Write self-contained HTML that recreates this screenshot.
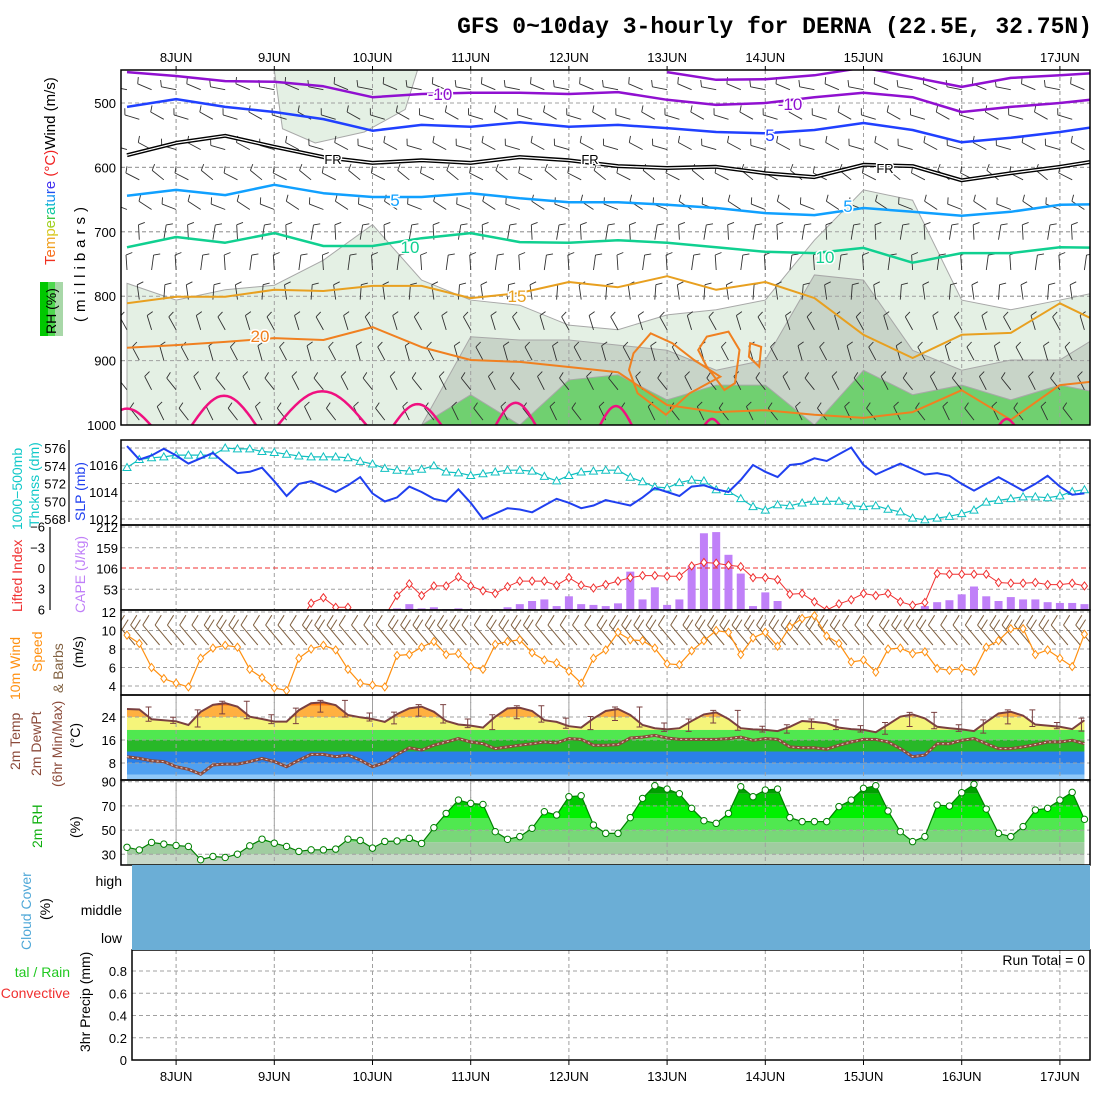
<!DOCTYPE html>
<html><head><meta charset="utf-8"><style>
html,body{margin:0;padding:0;background:#fff;}
svg{display:block;font-family:"Liberation Sans",sans-serif;}
</style></head><body>
<svg id="chart" width="1100" height="1100" viewBox="0 0 1100 1100" xmlns="http://www.w3.org/2000/svg">
<defs>
<clipPath id="cTop"><rect x="121" y="70" width="969" height="355"/></clipPath>
<clipPath id="cSlp"><rect x="121" y="440" width="969" height="85"/></clipPath>
<clipPath id="cCape"><rect x="121" y="525" width="969" height="85"/></clipPath>
<clipPath id="cWind"><rect x="121" y="610" width="969" height="85"/></clipPath>
<clipPath id="cTemp"><rect x="121" y="695" width="969" height="85"/></clipPath>
<clipPath id="cRh"><rect x="121" y="780" width="969" height="85"/></clipPath>
</defs>
<text x="1092" y="33" text-anchor="end" font-family="Liberation Mono, monospace" font-weight="bold" font-size="23">GFS 0~10day 3-hourly for DERNA (22.5E, 32.75N)</text>
<g id="grid"></g>
<g id="marks"></g>
<g id="axes" font-size="13"></g>

<g font-size="15">
<text transform="translate(55,265) rotate(-90)"><tspan fill="#f03020">T</tspan><tspan fill="#f87020">e</tspan><tspan fill="#f0a020">m</tspan><tspan fill="#d8c820">p</tspan><tspan fill="#a0d020">e</tspan><tspan fill="#40c840">r</tspan><tspan fill="#10c8a0">a</tspan><tspan fill="#10b8d0">t</tspan><tspan fill="#1090f0">u</tspan><tspan fill="#2050f0">r</tspan><tspan fill="#4030f0">e</tspan><tspan fill="#f02020"> (°C)</tspan><tspan fill="#000">Wind (m/s)</tspan></text>
<text transform="translate(85,322) rotate(-90)" letter-spacing="5">(millibars)</text>
<rect x="40" y="282" width="8" height="54" fill="#00c800"/><rect x="48" y="282" width="7" height="54" fill="#50d850"/><rect x="55" y="282" width="8" height="54" fill="#a8d8a8"/>
<text transform="translate(56,334) rotate(-90)" font-size="14">RH (%)</text>
</g>
<g font-size="14">
<text transform="translate(22,530) rotate(-90)" fill="#10c8c8">1000−500mb</text>
<text transform="translate(39,527) rotate(-90)" fill="#10c8c8">Thcknss (dm)</text>
<text transform="translate(85,521) rotate(-90)" fill="#2040f0">SLP (mb)</text>
<text transform="translate(22,612) rotate(-90)" fill="#f03030">Lifted Index</text>
<text transform="translate(85,613) rotate(-90)" fill="#c080f8">CAPE (J/kg)</text>
<text transform="translate(20,700) rotate(-90)" fill="#ff9010">10m Wind</text>
<text transform="translate(42,672) rotate(-90)" fill="#ff9010">Speed</text>
<text transform="translate(63,693) rotate(-90)" fill="#806040">&amp; Barbs</text>
<text transform="translate(83,668) rotate(-90)">(m/s)</text>
<text transform="translate(20,770) rotate(-90)" fill="#8b4a3a">2m Temp</text>
<text transform="translate(41,776) rotate(-90)" fill="#8b4a3a">2m DewPt</text>
<text transform="translate(62,787) rotate(-90)" fill="#8b4a3a">(6hr Min/Max)</text>
<text transform="translate(80,748) rotate(-90)">(°C)</text>
<text transform="translate(42,848) rotate(-90)" fill="#10b010">2m RH</text>
<text transform="translate(80,838) rotate(-90)">(%)</text>
<text transform="translate(31,950) rotate(-90)" fill="#50a8d8">Cloud Cover</text>
<text transform="translate(50,920) rotate(-90)">(%)</text>
<text x="122" y="886" text-anchor="end">high</text>
<text x="122" y="915" text-anchor="end">middle</text>
<text x="122" y="943" text-anchor="end">low</text>
<text x="70" y="977" text-anchor="end" fill="#20c820">tal / Rain</text>
<text x="70" y="998" text-anchor="end" fill="#f03030">Convective</text>
<text transform="translate(90,1052) rotate(-90)">3hr Precip (mm)</text>
</g>
<rect x="132" y="865" width="958" height="85" fill="#6baed6"/>
<text x="1085" y="965" text-anchor="end" font-size="14">Run Total = 0</text>
</svg>
<script>
const dayLabels = ["8JUN","9JUN","10JUN","11JUN","12JUN","13JUN","14JUN","15JUN","16JUN","17JUN"];
const slp = [1017.4,1016.4,1016.7,1017.2,1016.7,1016.1,1016.5,1016.9,1016.1,1015.4,1015.5,1015.8,1014.8,1013.7,1014.6,1014.8,1014.4,1014.0,1014.5,1015.1,1013.9,1013.3,1013.6,1014.4,1014.0,1013.5,1013.3,1014.2,1013.2,1012.0,1012.4,1012.8,1012.7,1012.5,1013.0,1013.5,1013.2,1012.8,1013.0,1013.4,1013.2,1013.0,1013.6,1014.3,1014.0,1013.7,1014.4,1014.5,1014.2,1014.0,1014.9,1016.0,1015.5,1015.1,1016.0,1016.1,1016.5,1016.3,1016.8,1017.3,1016.0,1015.3,1015.7,1016.1,1015.7,1015.3,1015.4,1015.2,1014.6,1014.1,1014.6,1015.1,1014.6,1014.1,1014.6,1015.2,1014.4,1013.8,1013.9];
const thickness = [573.8,574.7,574.9,575.0,575.2,575.2,575.2,575.2,576.0,575.9,575.9,575.6,575.5,575.3,575.1,575.0,575.0,575.0,574.9,574.5,574.2,573.7,573.5,573.4,573.6,574.0,573.3,573.2,572.9,573.1,573.3,573.5,573.5,573.4,572.8,572.3,572.9,573.3,573.4,573.5,573.5,572.7,572.2,571.6,571.5,572.1,572.4,572.3,571.3,571.1,570.3,569.4,569.0,569.6,569.5,569.8,570.0,570.0,570.0,569.5,569.4,569.5,569.1,568.8,568.1,567.9,568.1,568.3,568.6,569.0,569.9,570.1,570.3,570.5,570.5,570.4,570.6,571.1,571.3];
const cape = [0,0,0,0,0,0,0,0,0,0,0,0,0,0,0,0,0,0,0,0,0,0,4,15,4,7,2,4,2,2,2,7,15,23,27,10,35,15,13,10,17,98,27,58,13,27,113,196,199,141,93,10,45,23,0,0,0,0,0,0,0,0,0,0,0,10,20,25,40,60,35,23,33,27,27,20,18,18,15];
const liftedIndex = [8,8,8,8,8,8,8,8,8,8,8,8,8,8,8,5.1,4.3,5.7,5.7,7,7,7,4.0,2.3,4.0,2.6,2.6,1.3,2.6,3.3,3.7,2.7,1.9,1.9,1.9,2.5,1.4,2.5,2.9,2.4,1.9,1.4,1.1,1.1,1.2,1.2,-0.3,-0.8,-0.7,-0.4,-0.2,1.4,1.4,1.7,3.8,3.7,4.9,6.1,5.2,4.6,3.7,4.0,3.7,4.9,5.4,5.0,0.8,0.9,0.9,0.9,0.9,2.1,2.2,2.2,2.1,2.4,2.4,2.2,2.6];
const windSpeed = [9.5,8.6,6.0,4.8,4.3,3.9,7.0,8.1,8.4,8.2,5.8,4.9,3.8,3.5,7.0,8.0,8.4,7.9,5.8,4.3,4.1,3.9,7.3,7.4,8.2,8.8,7.4,7.5,6.1,5.8,8.5,8.8,9.0,7.6,6.8,6.5,5.6,4.3,7.0,7.9,9.8,9.0,8.9,8.1,6.4,6.3,7.8,8.9,10.0,9.8,7.4,9.2,9.8,8.3,10.4,11.3,11.6,9.4,8.6,6.6,6.8,5.5,8.0,8.1,7.5,7.7,5.9,5.7,5.9,5.6,8.2,8.9,10.2,10.2,7.4,7.9,7.0,6.1,9.6];
const windDir10 = 320;
const temp2m = [26.8,26.6,23.2,22.9,22.5,21.2,25.8,28.2,28.8,27.6,24.1,23.3,22.4,22.4,26.4,28.8,29.1,28.1,24.7,23.9,23.3,22.3,25.0,27.0,27.6,25.8,22.6,21.4,21.0,20.3,24.1,27.0,27.2,26.1,22.9,22.3,20.8,20.3,23.5,26.1,26.8,24.7,21.2,20.1,19.7,20.1,22.6,24.9,25.6,23.3,20.1,19.7,19.5,19.1,20.6,22.6,22.3,21.8,20.3,19.8,19.5,18.7,21.4,24.1,24.9,23.5,20.6,20.1,19.7,19.1,22.3,25.2,25.8,24.5,21.4,21.0,20.6,19.8,22.9];
const dewpt2m = [10.2,9.6,8.8,8.5,6.7,5.8,4.1,7.3,7.6,7.6,8.5,9.6,8.5,6.7,9.0,11.0,11.0,10.2,10.8,9.0,6.7,8.1,11.0,13.3,12.5,14.2,15.3,16.5,15.3,14.7,13.0,13.6,14.2,14.7,15.3,15.0,16.5,16.2,14.2,14.2,14.4,16.7,17.0,17.6,16.7,16.2,16.2,16.2,16.2,16.5,17.0,15.9,16.5,16.2,13.6,13.3,13.3,12.8,14.2,15.3,16.2,16.2,15.3,13.0,10.2,10.8,14.7,14.7,15.9,16.5,14.7,13.0,13.0,13.6,14.4,15.3,15.3,15.9,14.7];
const rh2m = [35.8,33.6,39.8,38.4,37.3,36.5,25.5,28.2,27.4,30.1,37.0,42.5,39.2,36.5,32.4,33.7,33.7,34.3,42.5,41.4,35.1,40.6,41.0,43.2,39.0,52,63.8,74.8,72.1,71.2,48.7,42.4,44.6,51.5,65.2,62.5,77.6,78.4,54.2,47.3,47.3,60.3,76.2,86.7,83.9,80.1,68.0,57.8,55.6,63.8,85.9,77.6,83.1,83.9,60.3,57.0,57.0,57.0,69.4,74.8,84.5,86.7,65.8,48.7,40.5,44.6,70.7,69.9,80.9,87.8,67.4,47.3,44.6,52.9,66.6,68.0,74.8,81.2,58.9];
const isoM15 = [null,null,null,null,null,null,null,null,null,null,null,452,464,463,457,445,460,475,461,457,452];
const isoM10 = [452,458,466,467,474,491,486,484,484,486,483,495,503,500,491,484,491,514,506,500,492];
const isoM5 = [506,494,506,514,525,543,534,537,530,537,534,539,545,547,542,531,542,561,554,545,534];
const isoFR = [581,562,551,568,584,593,589,593,584,589,598,601,599,609,615,596,598,620,609,599,587];
const isoP5 = [644,635,643,627,640,646,646,640,648,654,654,658,663,671,674,663,669,675,669,658,657];
const isoP10 = [724,708,717,702,722,722,710,702,716,717,713,717,724,731,733,725,748,733,733,724,725];
const isoP15 = [811,801,801,790,792,784,784,803,795,778,786,769,790,778,803,860,896,860,857,811,848];
const isoP20 = [880,876,871,865,868,848,879,899,902,910,918,969,980,977,984,989,980,946,992,938,930];
const loopA = [[123.8,888.7],[128,857.6],[133.3,873],[138.6,899],[145,925],[137.5,950.8],[131.7,984],[124.8,950.8],[122.7,914.6]];
const loopB = [[141.7,862.8],[147,855],[149.7,883.5],[148.6,935],[146,945.7],[141.7,909.5],[139.6,883.5]];
const loopC = [[152.3,873],[155,878.5],[154.5,909.5],[152,894]];
const bumpCenter = [0,23.7,47.7,71,95,119.5,143,215];
const bumpHalf = [6,8,11,6,5,4,2,2];
const bumpTop = [973,953,946,966,964,969,989,989];
const rh70Top = [780,806,790,783,744,689,775,806,814,845,852,829,821,806,713,635,651,806,821,806,790];
const rh80Top = [1000,1000,1000,1000,1000,1000,1000,863,868,868,876,884,915,899,767,775,884,915,899,899,852];
const rh90Top = [1000,1000,1000,1000,1000,1000,1000,953,1000,930,922,961,938,938,1000,915,953,938,961,938,953];
const barbLevels = [470,516,563,610,656,703,750,796,843,890,936,983];
const barbDir = [290,290,295,300,300,0,5,355,340,335,330,325];
const barbCount = [1,1,1,1,1,1,1,1,1,1,1,1];
const presTicks = [500,600,700,800,900,1000];
const thickTicks = [568,570,572,574,576];
const slpTicks = [1012,1014,1016];
const liTicks = [-6,-3,0,3,6];
const capeTicks = [53,106,159,212];
const windTicks = [4,6,8,10,12];
const tempTicks = [8,16,24];
const rhTicks = [30,50,70,90];
const precipTicks = [0,0.2,0.4,0.6,0.8];

const xh = h => 127 + h*98.2/24;
const xi = i => xh(3*i);
const yp = p => 103 + (p-500)*0.644;
const ySlp = v => 465 + (1016-v)*13.5;
const yTh = v => 448 + (576-v)*8.875;
const yLi = v => 568 + v*6.9;
const yCape = v => 610 - v*(83/212);
const yW = v => 612 + (12-v)*9.25;
const yT = v => 717 + (24-v)*2.875;
const yR = v => 781.7 + (90-v)*1.21;
const yP = v => 1060 - v*111.25;

const NS="http://www.w3.org/2000/svg";
function mk(tag, attrs, parent){const e=document.createElementNS(NS,tag);for(const k in attrs)e.setAttribute(k,attrs[k]);parent.appendChild(e);return e;}
const grid=document.getElementById('grid'), marks=document.getElementById('marks'), axes=document.getElementById('axes');
const defs=document.querySelector('#chart defs');
const dash={stroke:"#a0a0a0","stroke-width":1,"stroke-dasharray":"4,3",fill:"none"};
function hline(y,x1,x2,name){const l=mk('line',Object.assign({x1:x1,x2:x2,y1:y,y2:y},dash),grid);}
function label(x,y,t,name,anchor,extra){const e=mk('text',Object.assign({x:x,y:y,"text-anchor":anchor||"end"},extra||{}),axes);e.textContent=t;return e;}

dayLabels.forEach((d,k)=>{
  const x=xh(12+24*k);
  [[70,425],[440,865],[950,1060]].forEach(r=>{const l=mk('line',Object.assign({x1:x,x2:x,y1:r[0],y2:r[1]},dash),grid);});
  label(x,62,d,'top-date-label','middle');
  label(x,1081,d,'bottom-date-label','middle');
  const t1=mk('line',{x1:x,x2:x,y1:66,y2:70,stroke:"#000"},axes);
  const t2=mk('line',{x1:x,x2:x,y1:1060,y2:1065,stroke:"#000"},axes);
});
presTicks.forEach(p=>{hline(yp(p),121,1090,'pressure-grid-line');label(116,yp(p)+5,String(p),'pressure-tick-label');});
thickTicks.forEach(v=>{hline(yTh(v),121,1090,'thickness-grid-line');label(66,yTh(v)+5,String(v),'thickness-tick-label');});
slpTicks.forEach(v=>label(118,ySlp(v)+5,String(v),'slp-tick-label'));
liTicks.forEach(v=>label(45,yLi(v)+5,String(v).replace('-','−'),'li-tick-label'));
capeTicks.forEach(v=>{if(v!==106)hline(yCape(v),121,1090,'cape-grid-line');label(118,yCape(v)+5,String(v),'cape-tick-label');});
windTicks.forEach(v=>{hline(yW(v),121,1090,'wind-grid-line');label(116,yW(v)+5,String(v),'wind-tick-label');});
tempTicks.forEach(v=>label(116,yT(v)+5,String(v),'temp-tick-label'));
rhTicks.forEach(v=>label(116,yR(v)+5,String(v),'rh-tick-label'));
precipTicks.forEach(v=>{if(v>0)hline(yP(v),132,1090,'precip-grid-line');label(127,yP(v)+5,String(v),'precip-tick-label');});

const gTop=mk('g',{"clip-path":"url(#cTop)"},marks);


function shade(arr,color,name){
  let d='M'+xh(0)+','+yp(1000);
  arr.forEach((p,k)=>{d+=' L'+xh(12*k)+','+yp(p);});
  d+=' L'+xh(240)+','+yp(1000)+' Z';
  const e=mk('path',{d:d,fill:color,stroke:"#a8a8a8","stroke-width":1},gTop);
  
  
}
shade(rh70Top,'#e4f0e4','rh-70-shading');
shade(rh80Top,'#c8d4c8','rh-80-shading');
shade(rh90Top,'#70d070','rh-90-shading');
const upPatch=mk('path',{d:'M'+xh(36)+','+yp(449)+' L'+xh(38)+','+yp(540)+' L'+xh(46)+','+yp(562)+' L'+xh(58)+','+yp(545)+' L'+xh(68)+','+yp(510)+' L'+xh(71)+','+yp(449)+' Z',fill:'#e4f0e4',stroke:'#a8a8a8'},gTop);


presTicks.forEach(p=>{const l=mk('line',Object.assign({x1:121,x2:1090,y1:yp(p),y2:yp(p)},dash),gTop);});
dayLabels.forEach((d,k)=>{const x=xh(12+24*k);const l=mk('line',Object.assign({x1:x,x2:x,y1:70,y2:425},dash),gTop);});

function barb(parent,x,y,dir,n,L,color,w){
  const r=dir*Math.PI/180, sx=Math.sin(r), sy=-Math.cos(r);
  const tx=x+sx*L, ty=y+sy*L;
  let d='M'+x.toFixed(1)+','+y.toFixed(1)+' L'+tx.toFixed(1)+','+ty.toFixed(1);
  const br=r+Math.PI*0.4; const bx=Math.sin(br)*L*0.45, by=-Math.cos(br)*L*0.45;
  for(let k=0;k<n;k++){const px=tx-sx*k*L*0.22, py=ty-sy*k*L*0.22;d+=' M'+px.toFixed(1)+','+py.toFixed(1)+' l'+bx.toFixed(1)+','+by.toFixed(1);}
  return mk('path',{d:d,stroke:color,"stroke-width":w,fill:"none"},parent);
}
barbLevels.forEach((p,li)=>{
  for(let i=(li%2);i<79;i+=2){
    const b=barb(gTop,xi(i),yp(p)+6,barbDir[li]+((i%4)-1.5)*6,barbCount[li],15,'#303030',0.9);
    
    
  }
});
function contour(arr,color,w,name){
  let d='',pen=false;
  arr.forEach((p,k)=>{if(p===null){pen=false;return;}d+=(pen?' L':' M')+xh(12*k).toFixed(1)+','+yp(p).toFixed(1);pen=true;});
  const e=mk('path',{d:d,stroke:color,"stroke-width":w,fill:"none","stroke-linejoin":"round"},gTop);
  
  
  return e;
}
function loop(pts,color,name){
  const d='M'+pts.map(q=>xh(q[0]).toFixed(1)+','+yp(q[1]).toFixed(1)).join(' L')+' Z';
  const e=mk('path',{d:d,stroke:color,"stroke-width":2,fill:"none"},gTop);
  
  
}
contour(isoM15,'#9010d0',2.5,'isotherm-minus15');
contour(isoM10,'#9010d0',2.5,'isotherm-minus10');
contour(isoM5,'#2040ff',2.5,'isotherm-minus5');
contour(isoFR,'#000',4,'freezing-level');
contour(isoFR,'#fff',1.2,'freezing-level-inner');
contour(isoP5,'#10a0ff',2.5,'isotherm-plus5');
contour(isoP10,'#10d090',2.5,'isotherm-plus10');
contour(isoP15,'#e8a020',2,'isotherm-plus15');
contour(isoP20,'#f08020',2,'isotherm-plus20');
loop(loopA,'#f08020','isotherm-20-loop-a');
loop(loopB,'#f08020','isotherm-20-loop-b');
loop(loopC,'#f08020','isotherm-20-loop-c');
bumpCenter.forEach((c,k)=>{
  let d='';
  for(let s=0;s<=20;s++){const h=c-bumpHalf[k]+s*bumpHalf[k]/10;const f=Math.cos((h-c)/bumpHalf[k]*Math.PI/2);const p=1000-(1000-bumpTop[k])*f;d+=(s?' L':'M')+xh(h).toFixed(1)+','+(yp(p)+1).toFixed(1);}
  const e=mk('path',{d:d,stroke:'#f01080',"stroke-width":2.5,fill:'none'},gTop);
  
  
});
[[440,100,'-10','#9010d0'],[790,110,'-10','#9010d0'],[770,141,'5','#2040ff'],[333,164,'FR','#000'],[590,164,'FR','#000'],[885,173,'FR','#000'],[395,206,'5','#10a0ff'],[848,212,'5','#10a0ff'],[410,253,'10','#10d090'],[825,263,'10','#10d090'],[517,302,'15','#e8a020'],[260,342,'20','#f08020']].forEach(c=>{
  const t=mk('text',{x:c[0],y:c[1],fill:c[3],"font-size":c[2]==='FR'?13:17,"text-anchor":"middle",stroke:"#fff","stroke-width":3,"paint-order":"stroke"},gTop);
  t.textContent=c[2];
  
  
});

const gS=mk('g',{"clip-path":"url(#cSlp)"},marks);


const thPath=mk('path',{d:'M'+thickness.map((v,i)=>xi(i).toFixed(1)+','+yTh(v).toFixed(1)).join(' L'),stroke:'#10c0c0',"stroke-width":1.2,fill:'none'},gS);


thickness.forEach((v,i)=>{
  const x=xi(i),y=yTh(v);
  const m=mk('path',{d:`M${x},${y-4} L${x+4},${y+3} L${x-4},${y+3} Z`,stroke:'#10c0c0',fill:'#fff',"stroke-width":1},gS);
  
  
});
const slpPath=mk('path',{d:'M'+slp.map((v,i)=>xi(i).toFixed(1)+','+ySlp(v).toFixed(1)).join(' L'),stroke:'#2040f0',"stroke-width":2,fill:'none'},gS);



const gC=mk('g',{"clip-path":"url(#cCape)"},marks);


cape.forEach((v,i)=>{if(v<=0)return;
  const r=mk('rect',{x:xi(i)-4,y:yCape(v),width:8,height:610-yCape(v),fill:'#c080f8'},gC);
  
  
});
const li0=mk('line',{x1:121,x2:1090,y1:yLi(0),y2:yLi(0),stroke:'#f03030',"stroke-dasharray":"5,3"},gC);


const liPath=mk('path',{d:'M'+liftedIndex.map((v,i)=>xi(i).toFixed(1)+','+yLi(v).toFixed(1)).join(' L'),stroke:'#f03030',"stroke-width":1,fill:'none'},gC);


liftedIndex.forEach((v,i)=>{const x=xi(i),y=yLi(v);
  const m=mk('path',{d:`M${x},${y-4} L${x+3},${y} L${x},${y+4} L${x-3},${y} Z`,stroke:'#f03030',fill:'#fff'},gC);
  
  
});

const gW=mk('g',{"clip-path":"url(#cWind)"},marks);


windSpeed.forEach((v,i)=>{
  const b=barb(gW,xi(i)+8,645,windDir10,v>7?2:1,26,'#806040',1);
  
  
});
const wPath=mk('path',{d:'M'+windSpeed.map((v,i)=>xi(i).toFixed(1)+','+yW(v).toFixed(1)).join(' L'),stroke:'#ff9010',"stroke-width":1.2,fill:'none'},gW);


windSpeed.forEach((v,i)=>{const x=xi(i),y=yW(v);
  const m=mk('path',{d:`M${x},${y-4} L${x+3},${y} L${x},${y+4} L${x-3},${y} Z`,stroke:'#ff9010',fill:'#fff'},gW);
  
  
});

const gT=mk('g',{"clip-path":"url(#cTemp)"},marks);


const cpT=mk('clipPath',{id:'cTempArea'},defs);
mk('path',{d:'M'+xi(0)+',780 L'+temp2m.map((v,i)=>xi(i).toFixed(1)+','+yT(v).toFixed(1)).join(' L')+' L'+xi(78)+',780 Z'},cpT);
const tempBandLo=[28,24,19.5,16,12,8,4,-10];
const tempBandHi=[40,28,24,19.5,16,12,8,4];
const tempBandColor=['#ff7a10','#ffb040','#f5f57a','#50e850','#28b828','#2a80e8','#50a0f0','#90c8f8'];
const gTB=mk('g',{"clip-path":"url(#cTempArea)"},gT);
tempBandLo.forEach((lo,k)=>{
  const r=mk('rect',{x:121,y:yT(tempBandHi[k]),width:969,height:yT(lo)-yT(tempBandHi[k]),fill:tempBandColor[k]},gTB);
  
  
});
tempTicks.forEach(v=>{const l=mk('line',Object.assign({x1:121,x2:1090,y1:yT(v),y2:yT(v)},dash),gT);});
dayLabels.forEach((d,k)=>{const x=xh(12+24*k);const l=mk('line',Object.assign({x1:x,x2:x,y1:695,y2:780},dash),gT);});
const tPath=mk('path',{d:'M'+temp2m.map((v,i)=>xi(i).toFixed(1)+','+yT(v).toFixed(1)).join(' L'),stroke:'#7a4040',"stroke-width":2,fill:'none'},gT);


for(let i=2;i<79;i+=2){
  const hi=Math.max(temp2m[i],temp2m[i-1],temp2m[i-2]), lo=Math.min(temp2m[i],temp2m[i-1],temp2m[i-2]);
  const x=xi(i)-3;
  const m=mk('path',{d:`M${x},${yT(hi)-2} L${x},${yT(lo)+2} M${x-3},${yT(hi)-2} L${x+3},${yT(hi)-2} M${x-3},${yT(lo)+2} L${x+3},${yT(lo)+2}`,stroke:'#7a4040',"stroke-width":1,fill:'none'},gT);
  
  
}
const dPath=mk('path',{d:'M'+dewpt2m.map((v,i)=>xi(i).toFixed(1)+','+yT(v).toFixed(1)).join(' L'),stroke:'#8b4a3a',"stroke-width":3,fill:'none'},gT);


const dPath2=mk('path',{d:'M'+dewpt2m.map((v,i)=>xi(i).toFixed(1)+','+yT(v).toFixed(1)).join(' L'),stroke:'#e8d0d0',"stroke-width":1,"stroke-dasharray":"2,3",fill:'none'},gT);



const gR=mk('g',{"clip-path":"url(#cRh)"},marks);


const cpR=mk('clipPath',{id:'cRhArea'},defs);
mk('path',{d:'M'+xi(0)+',865 L'+rh2m.map((v,i)=>xi(i).toFixed(1)+','+yR(v).toFixed(1)).join(' L')+' L'+xi(78)+',865 Z'},cpR);
const rhBandLo=[0,30,40,50,60,70,80];
const rhBandHi=[30,40,50,60,70,80,100];
const rhBandColor=['#c8d8c8','#a0cca0','#78d878','#50e850','#00f000','#00c800','#00a000'];
const gRB=mk('g',{"clip-path":"url(#cRhArea)"},gR);
rhBandLo.forEach((lo,k)=>{
  const r=mk('rect',{x:121,y:yR(rhBandHi[k]),width:969,height:yR(lo)-yR(rhBandHi[k]),fill:rhBandColor[k]},gRB);
  
  
});
rhTicks.forEach(v=>{const l=mk('line',Object.assign({x1:121,x2:1090,y1:yR(v),y2:yR(v)},dash),gR);});
dayLabels.forEach((d,k)=>{const x=xh(12+24*k);const l=mk('line',Object.assign({x1:x,x2:x,y1:780,y2:865},dash),gR);});
const rPath=mk('path',{d:'M'+rh2m.map((v,i)=>xi(i).toFixed(1)+','+yR(v).toFixed(1)).join(' L'),stroke:'#008000',"stroke-width":1.2,fill:'none'},gR);


rh2m.forEach((v,i)=>{
  const c=mk('circle',{cx:xi(i),cy:yR(v),r:3.2,fill:'#fff',stroke:'#008000'},gR);
  
  
});

[[121,70,1090,425],[121,440,1090,525],[121,525,1090,610],[121,610,1090,695],[121,695,1090,780],[121,780,1090,865],[132,950,1090,1060]].forEach(b=>{
  const r=mk('rect',{x:b[0],y:b[1],width:b[2]-b[0],height:b[3]-b[1],fill:'none',stroke:'#000',"stroke-width":1.5},axes);
  
  
});
const a1=mk('line',{x1:69,x2:69,y1:440,y2:522,stroke:'#000',"stroke-width":1.2},axes);


const a2=mk('line',{x1:50,x2:50,y1:527,y2:610,stroke:'#000',"stroke-width":1.2},axes);


</script>
</body></html>
